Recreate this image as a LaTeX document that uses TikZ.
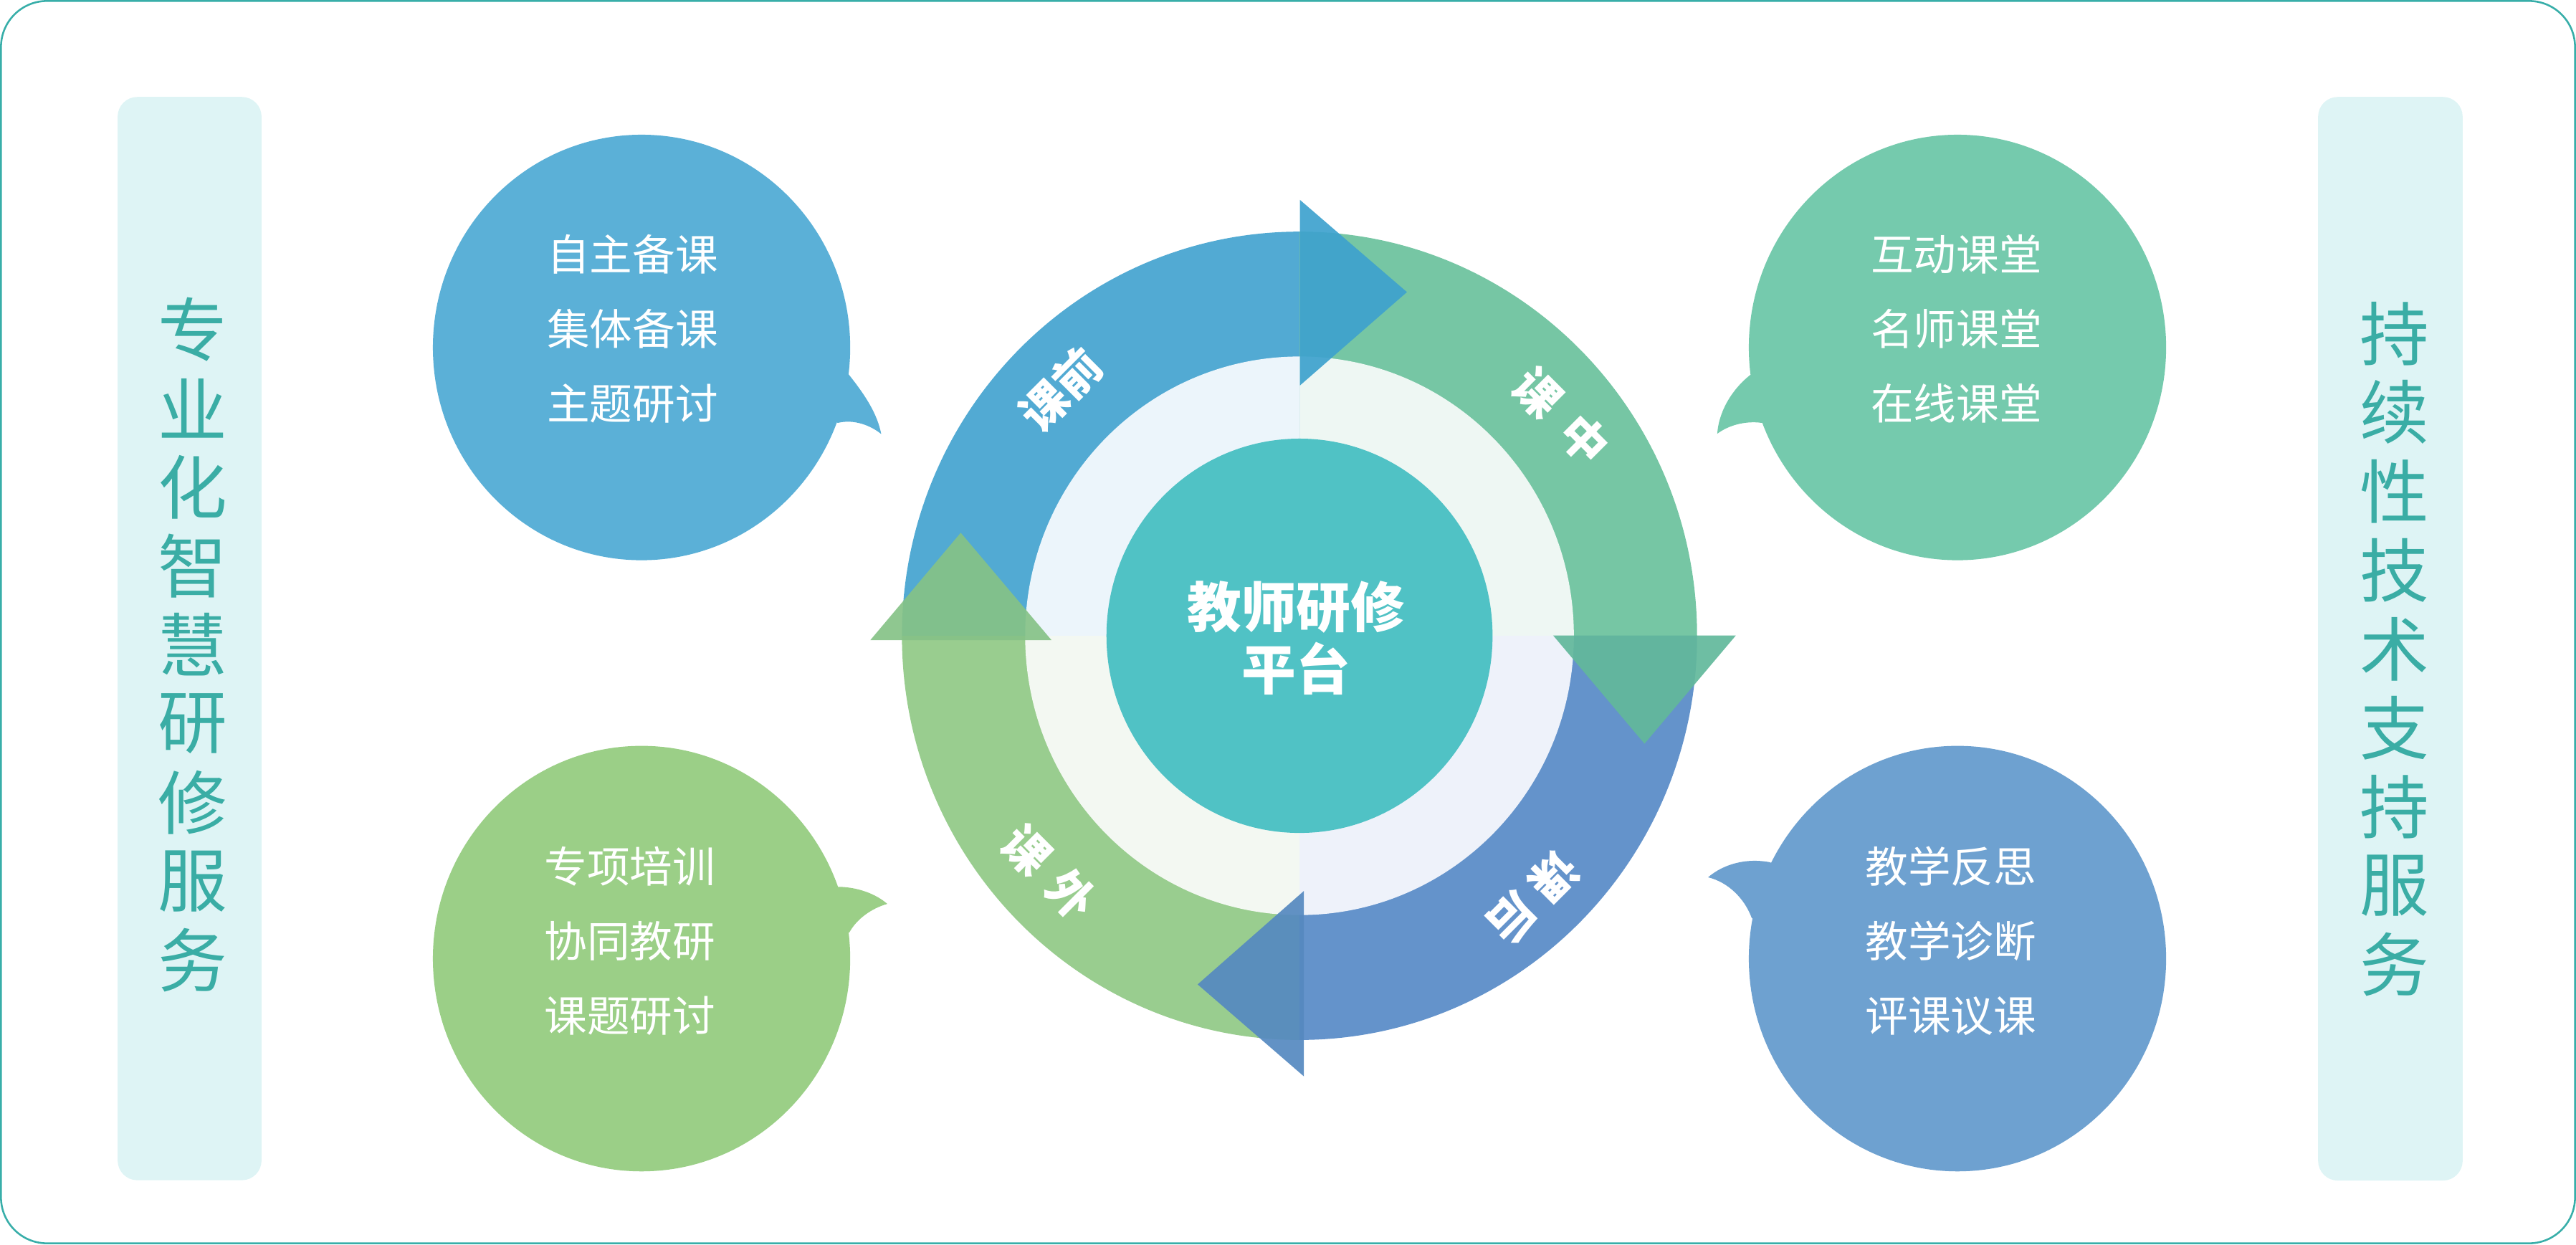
\documentclass[tikz,border=0pt]{standalone}
\usepackage{fontspec}
\setmainfont{Noto Sans CJK SC}
\usepackage{xcolor}
\usepackage{tikz}
\definecolor{framecol}{HTML}{38AEA9}
\definecolor{panelfill}{HTML}{DEF4F5}
\definecolor{panelink}{HTML}{3AADA5}
\definecolor{bubbleblue}{HTML}{5BB0D7}
\definecolor{bubblemint}{HTML}{75CAAD}
\definecolor{bubblegreen}{HTML}{9BCF87}
\definecolor{bubblesteel}{HTML}{6EA1D0}
\definecolor{ringtl}{HTML}{52AAD3}
\definecolor{ringtr}{HTML}{76C6A4}
\definecolor{ringbr}{HTML}{6493CB}
\definecolor{ringbl}{HTML}{99CD8F}
\definecolor{lighttl}{HTML}{ECF5FB}
\definecolor{lighttr}{HTML}{EEF7F3}
\definecolor{lightbr}{HTML}{EEF2FA}
\definecolor{lightbl}{HTML}{F3F8F2}
\definecolor{corefill}{HTML}{50C2C5}
\definecolor{tipblue}{HTML}{3EA2CE}
\definecolor{tipmint}{HTML}{62B89B}
\definecolor{tipsteel}{HTML}{5589C0}
\definecolor{tipgreen}{HTML}{86C287}
\tikzset{
    frame/.style={
        draw=framecol,
        line width=0.8pt,
        rounded corners=0.7cm
    },
    panel/.style={
        fill=panelfill,
        rounded corners=0.3cm
    },
    paneltext/.style={
        text=panelink,
        inner sep=0pt,
        font=\fontsize{30}{30}\selectfont
    },
    bubbletext/.style={
        text=white,
        align=center,
        font=\fontsize{18.5}{32.3}\selectfont
    },
    coretext/.style={
        text=white,
        align=center,
        font=\bfseries\fontsize{23.5}{27}\selectfont
    },
    ringlabel/.style={
        text=white,
        inner sep=0pt,
        font=\bfseries\fontsize{20}{20}\selectfont
    },
    pointer/.style={
        fill opacity=0.92
    }
}

\begin{document}
\begin{tikzpicture}[x=0.025cm, y=-0.025cm]

\useasboundingbox (0,0) rectangle (1568,757.4);

% Frame
\draw[frame] (0.6,0.6) rectangle (1567.4,756.8);

% Side panels
\fill[panel] (71.6,59) rectangle (159.2,718.4);
\fill[panel] (1411,59) rectangle (1499,718.6);
\foreach \ch [count=\i] in {专,业,化,智,慧,研,修,服,务}
    \node[paneltext] (left\i) at (117.5,{200.4+48*(\i-1)}) {\ch};
\foreach \ch [count=\i] in {持,续,性,技,术,支,持,服,务}
    \node[paneltext] (right\i) at (1457.6,{203+48*(\i-1)}) {\ch};

% Bubbles
\fill[bubbleblue] (390.5,211.5) ellipse[x radius=127, y radius=129.5];
\fill[bubbleblue] (516.5,227.8) .. controls (527,241) and (534,252) .. (536.4,264.2) .. controls (530,259) and (520,255) .. (510,257.4) -- (470,240) -- cycle;
\node[bubbletext] (bubbletl) at (385,200.3) {自主备课\\集体备课\\主题研讨};

\fill[bubblemint] (1191.5,211.5) ellipse[x radius=127, y radius=129.5];
\fill[bubblemint] (1065.4,228.2) .. controls (1053,238) and (1046,252) .. (1045.3,264) .. controls (1052,259) and (1062,256) .. (1072.4,257.4) -- (1110,240) -- cycle;
\node[bubbletext] (bubbletr) at (1190.8,200.3) {互动课堂\\名师课堂\\在线课堂};

\fill[bubblegreen] (390.5,583.5) ellipse[x radius=127, y radius=129.5];
\fill[bubblegreen] (510.5,539.8) .. controls (522,540) and (533,544) .. (540.1,550.2) .. controls (530,553) and (521,560) .. (517,567.6) -- (470,560) -- cycle;
\node[bubbletext] (bubblebl) at (383.4,572.6) {专项培训\\协同教研\\课题研讨};

\fill[bubblesteel] (1191.5,583.5) ellipse[x radius=127, y radius=129.5];
\fill[bubblesteel] (1077.6,524.9) .. controls (1063,522) and (1049,526) .. (1039.7,534) .. controls (1052,537) and (1062,547) .. (1066.3,558.9) -- (1110,560) -- cycle;
\node[bubbletext] (bubblebr) at (1187.4,572.9) {教学反思\\教学诊断\\评课议课};

% Ring
\begin{scope}[shift={(791,387)}, yscale=-1]
    \foreach \a/\outer/\inner in {0/ringtr/lighttr, 90/ringtl/lighttl, 180/ringbl/lightbl, 270/ringbr/lightbr} {
        \fill[\outer] (0,0) -- (\a:242 and 246) arc[start angle=\a, end angle=\a+90, x radius=242, y radius=246] -- cycle;
        \fill[\inner] (0,0) -- (\a:167 and 170) arc[start angle=\a, end angle=\a+90, x radius=167, y radius=170] -- cycle;
    }
    \fill[corefill] (0,0) ellipse[x radius=117.5, y radius=120];
\end{scope}

% Arrow heads
\fill[tipblue, pointer] (791.3,121.7) -- (856.4,177.8) -- (791.3,234.6) -- cycle;
\fill[tipmint, pointer] (945.4,386.8) -- (1056.6,386.8) -- (1001,452.7) -- cycle;
\fill[tipsteel, pointer] (793.7,542.3) -- (729,599.2) -- (793.7,655.2) -- cycle;
\fill[tipgreen, pointer] (529.8,389.6) -- (640,389.6) -- (584.8,324.3) -- cycle;

% Ring labels
\node[ringlabel, rotate=45] (before) at (645.7,237) {课前};
\node[ringlabel, rotate=-45] (during) at (950.4,253.3) {课\hspace{0.3cm}中};
\node[ringlabel, rotate=225] (after) at (933.3,546.1) {课\hspace{0.18cm}后};
\node[ringlabel, rotate=-45] (outside) at (638.4,530.8) {课\hspace{0.25cm}外};

% Core
\node[coretext] (core) at (789,388.5) {教师研修\\平台};

\end{tikzpicture}
\end{document}
